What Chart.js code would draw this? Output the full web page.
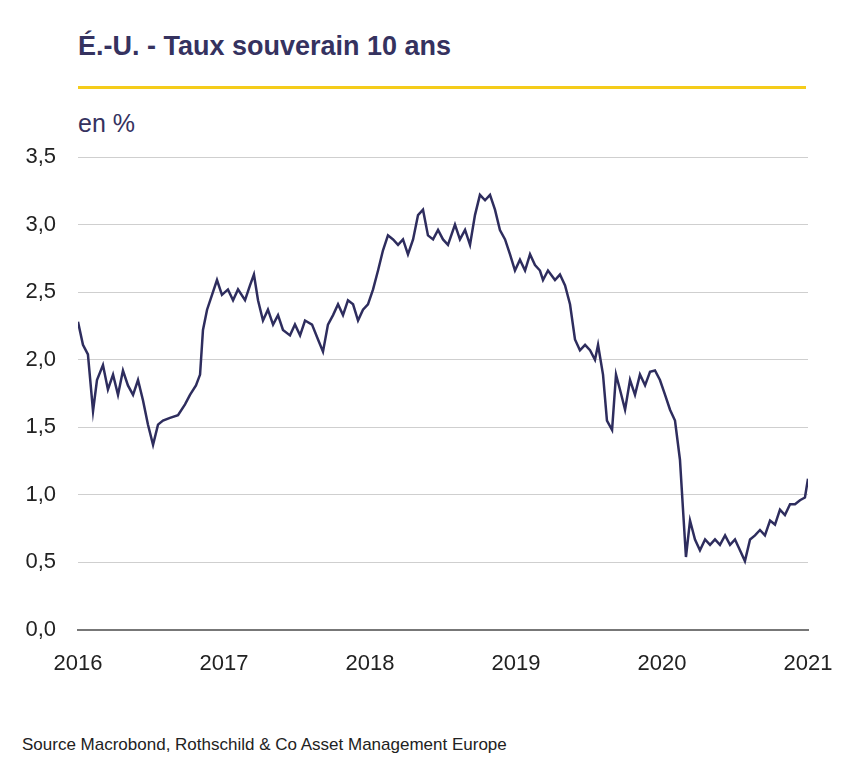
<!DOCTYPE html>
<html><head><meta charset="utf-8">
<script src="https://cdn.jsdelivr.net/npm/chart.js@4"></script>
<style>
body{margin:0;width:864px;height:772px;background:#fff;font-family:"Liberation Sans",Arial,sans-serif;position:relative;overflow:hidden}
#t{position:absolute;left:78px;top:31px;font-size:27px;font-weight:bold;color:#35325f}
#bar{position:absolute;left:78px;top:86px;width:728px;height:3px;background:#f5cc1a}
#u{position:absolute;left:78px;top:109px;font-size:25px;color:#35325f}
#s{position:absolute;left:22px;top:735px;font-size:17px;color:#222}
canvas{position:absolute;left:0;top:0}
</style></head><body>
<div id="t">É.-U. - Taux souverain 10 ans</div><div id="bar"></div><div id="u">en %</div>
<div id="s">Source Macrobond, Rothschild &amp; Co Asset Management Europe</div>
<canvas id="c" width="864" height="772"></canvas>
<script>
const yearOffsets=[0,.034,.068,.103,.130,.171,.205,.240,.274,.308,.342,.377,.411,.445,.479,.514,.548,.582,.630,.685,.733,.767,.808,.836,.856,.884,.918,.952,.986,1.027,1.062,1.096,1.144,1.178,1.205,1.233,1.267,1.301,1.336,1.370,1.404,1.452,1.486,1.521,1.555,1.603,1.644,1.678,1.712,1.747,1.781,1.815,1.849,1.884,1.918,1.952,1.986,2.021,2.055,2.089,2.123,2.158,2.192,2.226,2.260,2.295,2.329,2.363,2.397,2.432,2.466,2.500,2.534,2.582,2.616,2.651,2.685,2.719,2.753,2.788,2.822,2.856,2.890,2.925,2.959,2.993,3.027,3.062,3.096,3.130,3.164,3.185,3.219,3.267,3.301,3.336,3.370,3.404,3.438,3.473,3.507,3.541,3.562,3.596,3.623,3.658,3.685,3.712,3.747,3.781,3.815,3.849,3.884,3.918,3.952,3.986,4.021,4.055,4.089,4.123,4.144,4.164,4.192,4.226,4.260,4.295,4.329,4.363,4.397,4.432,4.466,4.500,4.534,4.568,4.603,4.637,4.671,4.705,4.740,4.774,4.808,4.842,4.877,4.911,4.945,4.979,5.0];
const rates=[2.28,2.11,2.04,1.62,1.85,1.96,1.78,1.89,1.74,1.92,1.81,1.74,1.85,1.70,1.52,1.37,1.52,1.55,1.57,1.59,1.67,1.74,1.81,1.89,2.22,2.37,2.48,2.59,2.48,2.52,2.44,2.52,2.44,2.55,2.63,2.44,2.29,2.37,2.26,2.33,2.22,2.18,2.26,2.18,2.29,2.26,2.15,2.06,2.26,2.33,2.41,2.33,2.44,2.41,2.29,2.37,2.41,2.52,2.66,2.81,2.92,2.89,2.85,2.89,2.78,2.89,3.07,3.11,2.92,2.89,2.96,2.89,2.85,3.00,2.89,2.96,2.85,3.07,3.22,3.18,3.22,3.11,2.96,2.89,2.78,2.66,2.74,2.66,2.78,2.70,2.66,2.59,2.66,2.59,2.63,2.55,2.41,2.15,2.07,2.11,2.07,2.00,2.11,1.89,1.55,1.48,1.89,1.78,1.63,1.85,1.74,1.89,1.81,1.91,1.92,1.85,1.74,1.63,1.55,1.26,0.89,0.54,0.81,0.67,0.59,0.67,0.63,0.67,0.63,0.70,0.63,0.67,0.59,0.51,0.67,0.70,0.74,0.70,0.81,0.78,0.89,0.85,0.93,0.93,0.96,0.98,1.12];
const startYear=2016;
const pts=yearOffsets.map((o,i)=>({x:startYear+o,y:rates[i]}));
new Chart(document.getElementById('c'),{type:'line',
data:{datasets:[{data:pts,borderColor:'#2e2d5e',borderWidth:2.5,pointRadius:0,tension:0}]},
options:{responsive:false,animation:false,plugins:{legend:{display:false},tooltip:{enabled:false}},
layout:{padding:{top:157,right:56,left:0,bottom:0}},
scales:{
x:{type:'linear',min:2016,max:2021,afterFit:s=>{s.height=142},
 ticks:{stepSize:1,padding:13,color:'#222',font:{size:22,family:'Liberation Sans'},callback:v=>String(v)},
 grid:{display:false},border:{color:'#777',width:2}},
y:{min:0,max:3.5,afterFit:s=>{s.width=78},
 ticks:{stepSize:0.5,padding:22,color:'#222',font:{size:22,family:'Liberation Sans'},callback:v=>v.toFixed(1).replace('.',',')},
 grid:{color:ctx=>ctx.tick.value===0?'#777':'#cfcfcf',lineWidth:ctx=>ctx.tick.value===0?2:1,drawTicks:false},border:{display:false}}
}}});
</script></body></html>
